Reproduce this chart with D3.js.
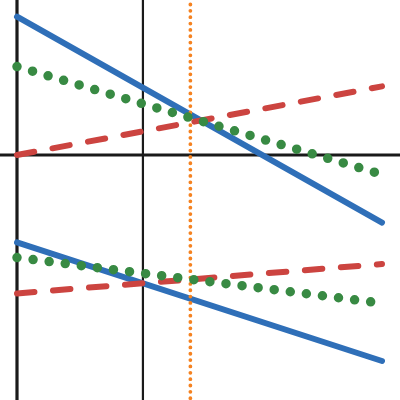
<!DOCTYPE html>
<html><head><meta charset="utf-8">
<script src="https://cdn.jsdelivr.net/npm/d3@7"></script>
<style>html,body{margin:0;padding:0;background:#fff;}svg{display:block;}</style>
</head><body>
<script>
// x positions of the line endpoints
const xEnds = [0, 10];
// series values at the endpoints (top group and bottom group)
const topBlue   = [6.92, -3.38];
const topGreen  = [4.42, -0.97];
const topRed    = [0.0, 3.43];
const botBlue   = [-4.37, -10.30];
const botGreen  = [-5.13, -7.41];
const botRed    = [-6.92, -5.45];
// reference lines
const vRefBlack = [0, 3.45];
const vRefOrange = [4.75];
const hRef = [0];

const W = 400, H = 400;
const x = d3.scaleLinear().domain([0, 10]).range([17, 382]);
const y = d3.scaleLinear().domain([7.75, -12.25]).range([0, 400]);

const svg = d3.select("body").append("svg").attr("width", W).attr("height", H);

// black reference lines
svg.selectAll(".vref").data(vRefBlack).enter().append("line")
  .attr("x1", d => x(d)).attr("x2", d => x(d)).attr("y1", 0).attr("y2", H)
  .attr("stroke", "#1a1a1a").attr("stroke-width", (d, i) => i === 0 ? 3.2 : 2.2);
svg.selectAll(".href").data(hRef).enter().append("line")
  .attr("x1", 0).attr("x2", W).attr("y1", d => y(d)).attr("y2", d => y(d))
  .attr("stroke", "#1a1a1a").attr("stroke-width", 3);

const line = d3.line().x(d => x(d[0])).y(d => y(d[1]));
function draw(s) {
  svg.append("path")
    .datum(xEnds.map((xv, i) => [xv, s.v[i]]))
    .attr("d", line)
    .attr("fill", "none")
    .attr("stroke", s.color)
    .attr("stroke-width", s.w)
    .attr("stroke-linecap", "round")
    .attr("stroke-dasharray", s.dash);
}
[topBlue, botBlue].forEach(v => draw({v, color: "#2f6fb8", w: 6, dash: null}));
[topRed, botRed].forEach(v => draw({v, color: "#cc4440", w: 6, dash: "17.5 18.6"}));

// orange dotted vertical
svg.selectAll(".oref").data(vRefOrange).enter().append("line")
  .attr("x1", d => x(d)).attr("x2", d => x(d)).attr("y1", 4.5).attr("y2", H)
  .attr("stroke", "#f58220").attr("stroke-width", 3.8)
  .attr("stroke-linecap", "round").attr("stroke-dasharray", "0 6.35");

[topGreen, botGreen].forEach(v => draw({v, color: "#388a43", w: 9.5, dash: "0 16.2"}));
</script>
</body></html>
